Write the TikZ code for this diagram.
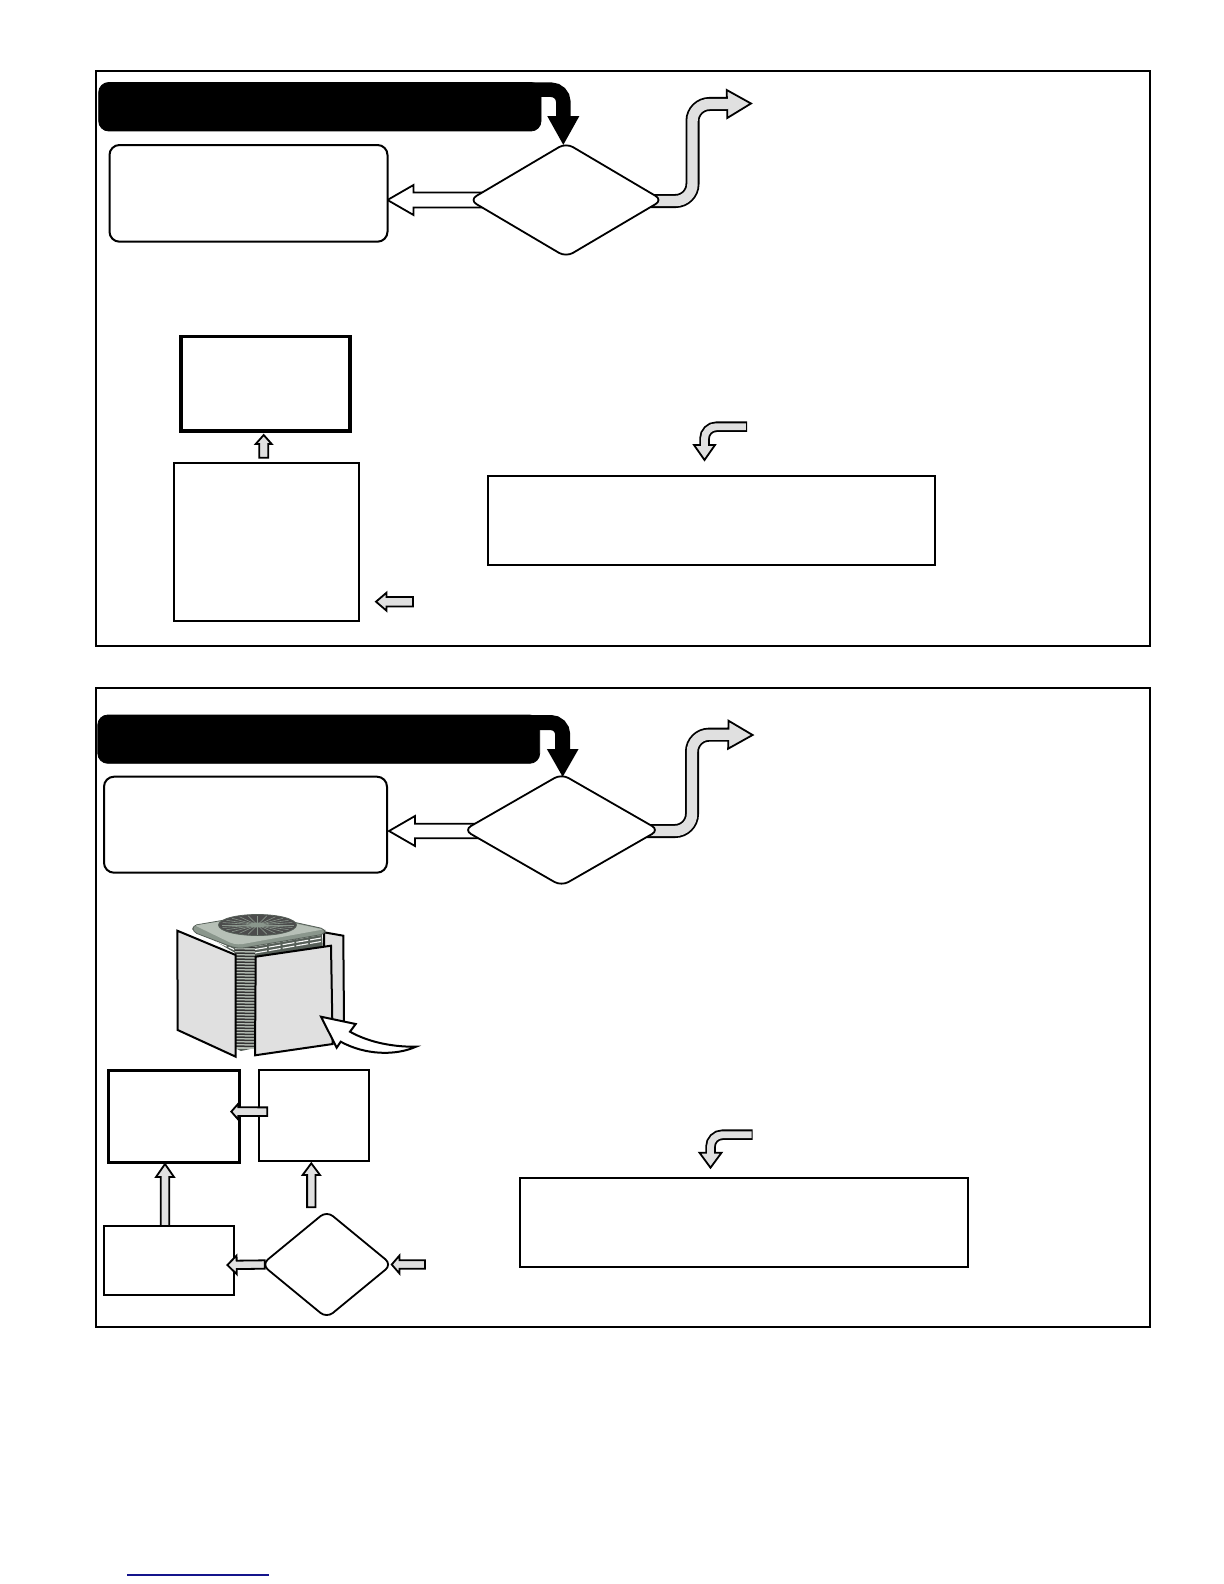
\documentclass[tikz,border=0pt]{standalone}
\usetikzlibrary{calc,shapes.geometric}
\pgfdeclarelayer{back}
\pgfsetlayers{back,main}
\definecolor{panelgray}{HTML}{E0E0E0}
\definecolor{linkblue}{HTML}{14148C}
\definecolor{unitdark}{HTML}{565F58}
\definecolor{unitmid}{HTML}{8A968C}
\definecolor{unitlight}{HTML}{B7C0B7}
\def\px{0.5pt}
\tikzset{
  basebox/.style={draw=black,inner sep=0pt,outer sep=0pt,fill=white,line join=miter},
  panelbox/.style={basebox,fill=none,line width=1pt},
  thinbox/.style={basebox,line width=1pt},
  heavybox/.style={basebox,line width=1.7pt},
  softbox/.style={basebox,line width=1pt,rounded corners=5pt},
  bannerbox/.style={basebox,fill=black,rounded corners=5pt},
  decision/.style={draw=black,fill=white,shape=diamond,inner sep=0pt,outer sep=0pt,line width=0.9pt,rounded corners=4pt},
  blockline/.style={draw=black,line width=0.9pt,line join=miter},
  sheet/.style={draw=black,fill=panelgray,line width=1pt,line join=miter},
}
% box by its corners, in pixels
\newcommand\boxat[6]{%
  \pgfmathsetmacro\bw{#5-#3}\pgfmathsetmacro\bh{#6-#4}%
  \pgfmathsetmacro\bx{(#3+#5)/2}\pgfmathsetmacro\by{(#4+#6)/2}%
  \node[#1,minimum width=\bw*\px,minimum height=\bh*\px] (#2) at (\bx,\by) {};}
% straight block arrow: from, to, shaft half, head half, head length, fill
\newcommand\straightblock[6]{%
  \coordinate (hb) at ($(#2)!#5*\px!(#1)$);
  \draw[blockline,fill=#6]
    ($(#1)!#3*\px!90:(#2)$) -- ($(hb)!#3*\px!90:(#2)$) -- ($(hb)!#4*\px!90:(#2)$) -- (#2)
    -- ($(hb)!#4*\px!-90:(#2)$) -- ($(hb)!#3*\px!-90:(#2)$) -- ($(#1)!#3*\px!-90:(#2)$) -- cycle;}
% bent block arrow: path, tip, head base, head half, shaft width, fill, radius
\newcommand\bentblock[7]{%
  \draw[black,line width=#5*\px,rounded corners=#7*\px] #1;
  \draw[blockline,fill=#6] ($(#3)!#4*\px!90:(#2)$) -- (#2) -- ($(#3)!#4*\px!-90:(#2)$) -- cycle;
  \draw[#6,line width=#5*\px-3.6*\px,rounded corners=#7*\px,shorten >=-0.8pt,shorten <=0.6pt] #1;}
\begin{document}
\begin{tikzpicture}[x=\px,y=-\px]
\useasboundingbox (0,0) rectangle (1224,1584);
\begin{pgfonlayer}{back}
\fill[white] (0,0) rectangle (1224,1584);
\end{pgfonlayer}

% ---------- upper panel ----------
\boxat{bannerbox}{bannerA}{98.7}{82.5}{541}{131}
\boxat{softbox}{resultA}{109.5}{145}{387.5}{241.7}
\boxat{decision,minimum width=193*\px,minimum height=114*\px}{checkA}{469.5}{143}{662.5}{257}
\boxat{heavybox}{endA}{181}{336.7}{350}{431}
\boxat{thinbox}{stepA}{173.8}{462.7}{359}{621}
\boxat{thinbox}{noteA}{488}{475.5}{935}{565}
\coordinate (outA) at (751,103.5);
\coordinate (kneeA) at (692.5,104);
\coordinate (inA) at (413,601.7);
\coordinate (stepAtip) at (376,601.7);
\coordinate (tailA) at (747,426.7);
\coordinate (kneeAb) at (704.5,445);
\coordinate (tipAb) at (704.5,460);
\begin{pgfonlayer}{back}
  \boxat{panelbox}{panelA}{95.5}{71}{1150}{645.5}
  \bentblock{($(bannerA.north east)+(-14,7.25)$) -| ($(checkA.north)+(-2.7,-26)$)}{$(checkA.north)+(-2.7,0)$}{$(checkA.north)+(-2.7,-26)$}{14.5}{14.5}{black}{12}
  \straightblock{$(checkA.west)+(14,0)$}{$(resultA.east)+(0,6.65)$}{7.5}{15}{26}{white}
  \bentblock{($(checkA.east)+(-12,1)$) -| (kneeA) -- (727,104)}{outA}{727,104}{14}{14}{panelgray}{17}
\end{pgfonlayer}
\straightblock{$(stepA.north)+(-2.7,-5)$}{$(endA.south)+(-1.8,4)$}{4.5}{8}{9}{panelgray}
\straightblock{inA}{stepAtip}{4.7}{9}{10.5}{panelgray}
\bentblock{(tailA) -| (kneeAb)}{tipAb}{kneeAb}{10.5}{10.5}{panelgray}{12}

% ---------- lower panel ----------
\boxat{bannerbox}{bannerB}{97.8}{715}{539.7}{763.3}
\boxat{softbox}{resultB}{104}{776.7}{387}{872.7}
\boxat{decision,minimum width=195*\px,minimum height=112*\px}{checkB}{464}{774}{659}{886}
\boxat{heavybox}{endB}{108.3}{1070.7}{239.3}{1162.3}
\boxat{thinbox}{stepB}{259}{1070}{369}{1160.7}
\boxat{thinbox}{sideB}{103.7}{1226}{234.3}{1295}
\boxat{decision,minimum width=130*\px,minimum height=107*\px}{forkB}{261.7}{1211}{391.7}{1318}
\boxat{thinbox}{noteB}{520}{1178}{967.5}{1267.3}
\coordinate (outB) at (752.6,735);
\coordinate (kneeB) at (692,734.7);
\coordinate (inB) at (425,1264.5);
\coordinate (tailB) at (752.7,1134.7);
\coordinate (kneeBb) at (710.5,1152.7);
\coordinate (tipBb) at (710.5,1167.7);
\begin{pgfonlayer}{back}
  \boxat{panelbox}{panelB}{95.5}{688}{1150}{1327}
  \bentblock{($(bannerB.north east)+(-14,7.5)$) -| ($(checkB.north)+(1.2,-24)$)}{$(checkB.north)+(1.2,1)$}{$(checkB.north)+(1.2,-24)$}{14.25}{15}{black}{12}
  \straightblock{$(checkB.west)+(14,1)$}{$(resultB.east)+(2,6.3)$}{7.2}{15}{26}{white}
  \bentblock{($(checkB.east)+(-12,1)$) -| (kneeB) -- (728.3,734.7)}{outB}{728.3,734.7}{14}{14}{panelgray}{17}
\end{pgfonlayer}
\straightblock{$(stepB.west)+(8.3,-3.7)$}{$(endB.east)+(-8,-4.9)$}{4.3}{8}{7}{panelgray}
\straightblock{$(sideB.north)+(-4,0)$}{$(endB.south)+(-8.8,1.7)$}{4.2}{9}{13}{panelgray}
\straightblock{$(stepB.south)+(-2.7,46.6)$}{$(stepB.south)+(-2.7,2.6)$}{4.2}{8.7}{11.7}{panelgray}
\straightblock{$(forkB.west)+(3,0)$}{$(sideB.east)+(-7,4.5)$}{4.2}{9.3}{9.4}{panelgray}
\straightblock{inB}{forkB.east}{4.2}{8.9}{7.7}{panelgray}
\bentblock{(tailB) -| (kneeBb)}{tipBb}{kneeBb}{11}{10.5}{panelgray}{12}

% ---------- condensing unit ----------
\draw[sheet] (324,932.3) -- (343.3,935.7) -- (344,1022) -- (325,1020) -- cycle;
% cabinet
\fill[unitdark] (197,930) -- (238,948) -- (322,934) -- (323,952) -- (255,962) -- (255,1048) -- (241,1051) -- (235,1048) -- (235,953) -- cycle;
\fill[unitlight] (235,945) rectangle (255,1049);
\foreach \yy in {947,950,...,1046} \draw[black!80,line width=0.75pt] (235,\yy) -- (255,\yy+0.5);
% louvres
\foreach \dd in {0,3.5,7} {
  \draw[white!90!unitlight,line width=0.55pt,dash pattern=on 6pt off 1pt] (203,932+\dd) -- (234,946+\dd);
  \draw[white!90!unitlight,line width=0.55pt,dash pattern=on 6pt off 1pt] (255,946+\dd) -- (321,934.5+\dd);
}
% top plate
\draw[draw=unitdark,fill=unitmid,line join=round,rounded corners=2pt]
  (192.7,925.5) -- (258,914.3) -- (325,929) -- (325,934) -- (240,948.5) -- (232,947) -- (193,932) -- cycle;
\fill[unitlight,rounded corners=1pt] (195,925.5) -- (258,915.5) -- (323,929.5) -- (240,944.5) -- (232,943.5) -- cycle;
\draw[draw=unitdark,fill=black!70] (257.5,925) ellipse [x radius=39,y radius=10.5];
\foreach \aa in {0,15,...,345}
  \draw[unitmid,line width=0.3pt] (257.5,925) -- ++({36*cos(\aa)},{9.5*sin(\aa)});
\fill[unitmid] (257.5,925) ellipse [x radius=8,y radius=2.5];
% shields
\draw[sheet] (177.3,930.7) -- (235.7,955) -- (235.7,1056.7) -- (177.7,1030) -- cycle;
\draw[sheet] (255.7,956.7) -- (331,945.7) -- (332.7,1044) -- (255,1055.3) -- cycle;
\draw[draw=black,fill=white,line width=1pt,line join=miter]
  (321,1016.7) -- (355.7,1024) -- (350,1031.7)
  .. controls (370,1043) and (395,1047) .. (416,1046.7)
  .. controls (395,1056) and (365,1055) .. (340.7,1041.7)
  -- (336.7,1047.7) -- cycle;

% ---------- foot rule ----------
\coordinate (ruleL) at (127,1575);
\coordinate (ruleR) at (269,1575);
\draw[linkblue,line width=0.7pt] (ruleL) -- (ruleR);
\end{tikzpicture}
\end{document}
